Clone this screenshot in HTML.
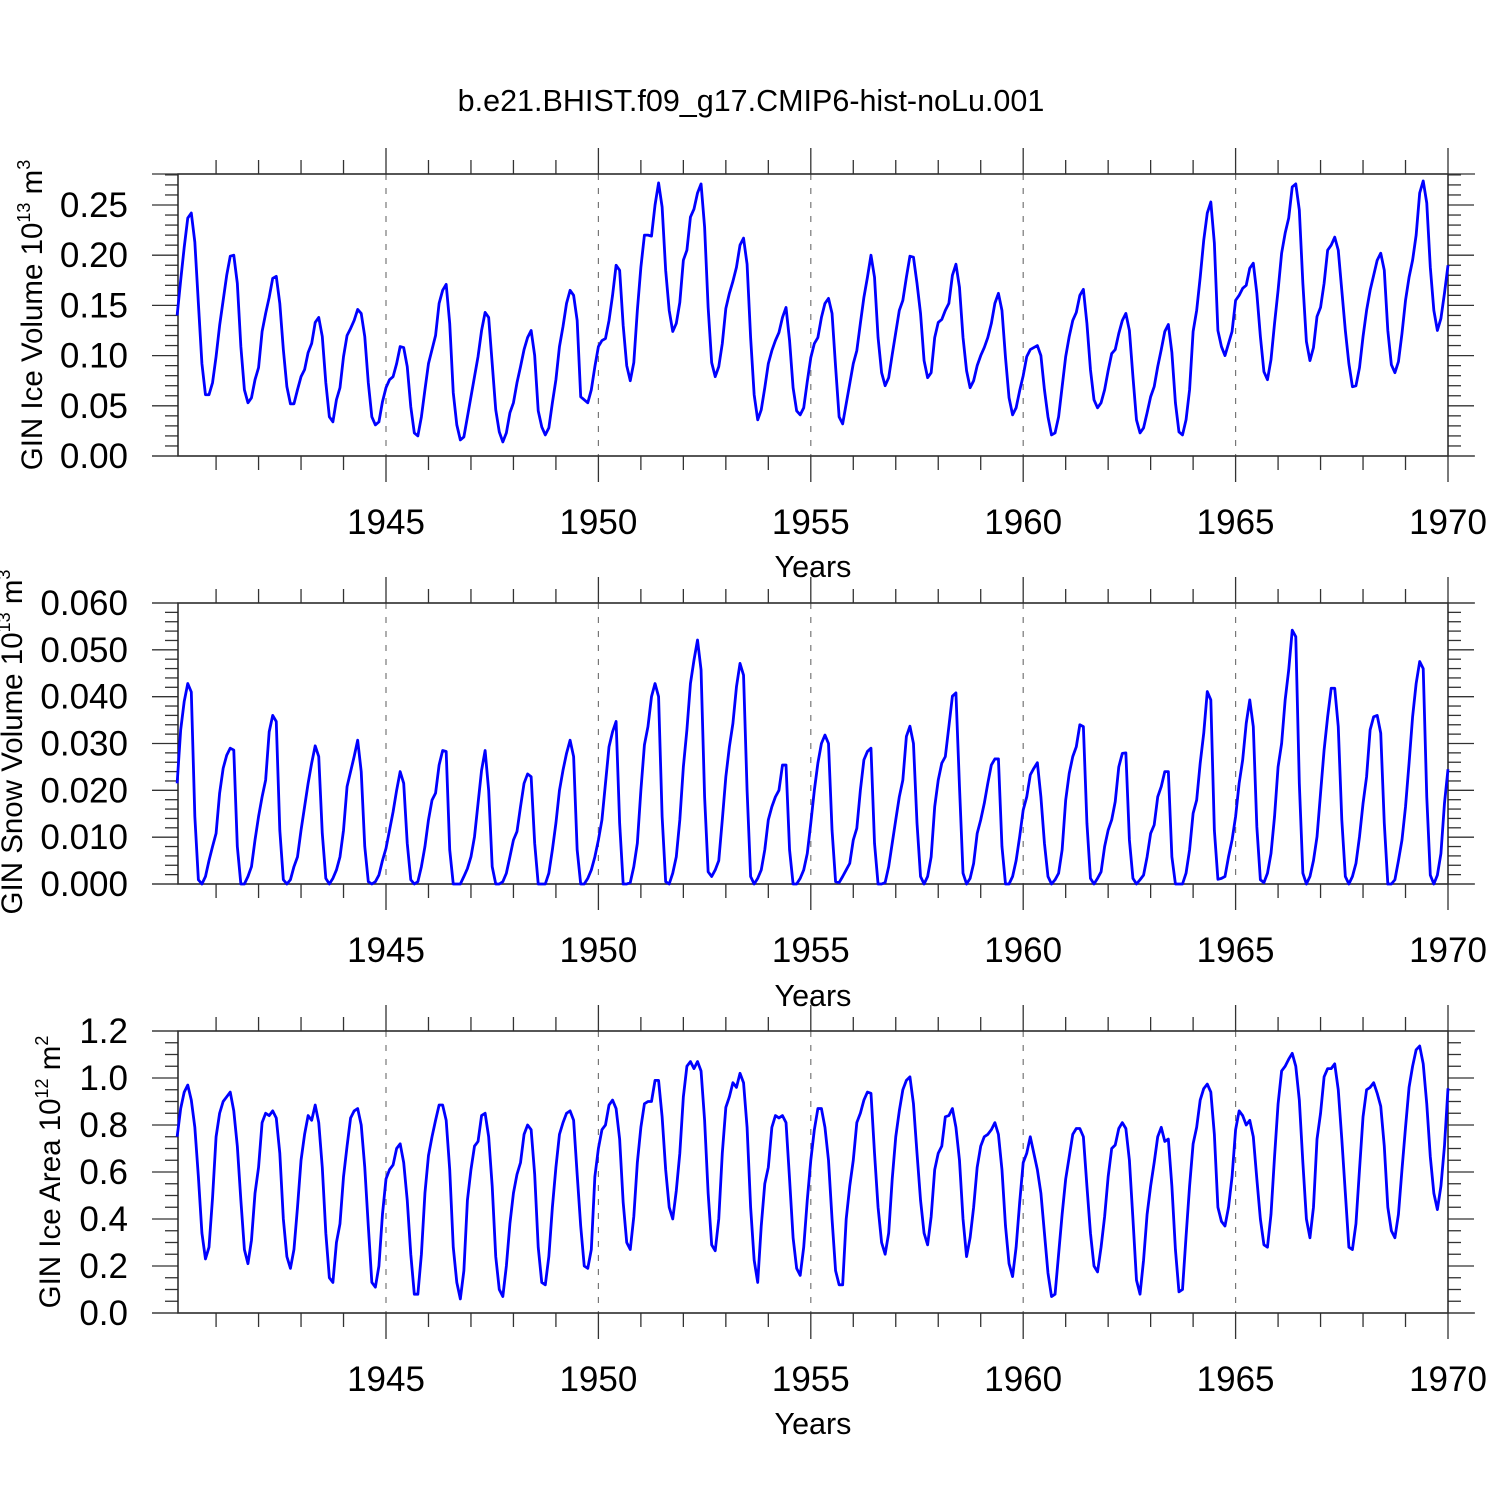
<!DOCTYPE html>
<html><head><meta charset="utf-8"><style>
body{margin:0;background:#fff}
svg{display:block;font-family:"Liberation Sans",Arial,sans-serif}
</style></head><body>
<svg id="chart" width="1500" height="1500" viewBox="0 0 1500 1500" xmlns="http://www.w3.org/2000/svg">
<rect x="0" y="0" width="1500" height="1500" fill="#fff"/>
<text x="751" y="111" font-size="30.5" text-anchor="middle">b.e21.BHIST.f09_g17.CMIP6-hist-noLu.001</text>
</svg>
<script>
const startYear = 1940;
const endYear = 1970;
const xTickYears = [1945, 1950, 1955, 1960, 1965, 1970];
const iceVolTicks = ["0.00","0.05","0.10","0.15","0.20","0.25"];
const snowVolTicks = ["0.000","0.010","0.020","0.030","0.040","0.050","0.060"];
const iceAreaTicks = ["0.0","0.2","0.4","0.6","0.8","1.0","1.2"];

const iceVolume = [
0.14,0.175,0.208,0.237,0.242,0.213,0.152,0.092,0.061,0.061,0.073,0.099,
0.13,0.155,0.18,0.199,0.2,0.172,0.109,0.066,0.053,0.058,0.076,0.088,
0.124,0.142,0.158,0.177,0.179,0.152,0.106,0.069,0.052,0.052,0.066,0.079,
0.086,0.103,0.112,0.133,0.138,0.119,0.073,0.039,0.034,0.056,0.068,0.099,
0.12,0.127,0.135,0.146,0.142,0.119,0.073,0.039,0.031,0.034,0.054,0.068,
0.076,0.079,0.092,0.109,0.108,0.089,0.049,0.023,0.02,0.039,0.066,0.092,
0.106,0.12,0.152,0.165,0.171,0.132,0.063,0.031,0.016,0.019,0.039,0.059,
0.079,0.099,0.125,0.143,0.138,0.092,0.046,0.024,0.014,0.023,0.043,0.053,
0.073,0.089,0.106,0.118,0.125,0.1,0.045,0.029,0.021,0.028,0.053,0.076,
0.109,0.129,0.152,0.165,0.16,0.135,0.059,0.056,0.053,0.066,0.089,0.109,
0.115,0.117,0.135,0.16,0.19,0.185,0.13,0.09,0.075,0.093,0.145,0.188,
0.22,0.22,0.219,0.25,0.272,0.248,0.185,0.145,0.124,0.132,0.153,0.195,
0.205,0.238,0.246,0.262,0.271,0.228,0.148,0.093,0.079,0.089,0.112,0.147,
0.162,0.174,0.188,0.21,0.217,0.191,0.118,0.061,0.036,0.046,0.068,0.092,
0.105,0.115,0.123,0.138,0.148,0.115,0.068,0.045,0.041,0.048,0.074,0.098,
0.112,0.118,0.138,0.152,0.157,0.142,0.089,0.039,0.032,0.052,0.072,0.092,
0.105,0.132,0.158,0.178,0.2,0.178,0.118,0.083,0.07,0.078,0.101,0.123,
0.145,0.155,0.178,0.199,0.198,0.172,0.142,0.095,0.078,0.083,0.118,0.133,
0.136,0.145,0.152,0.18,0.191,0.168,0.118,0.085,0.068,0.075,0.09,0.1,
0.108,0.118,0.132,0.152,0.162,0.145,0.098,0.058,0.041,0.048,0.065,0.08,
0.099,0.106,0.108,0.11,0.1,0.066,0.039,0.021,0.023,0.039,0.069,0.099,
0.119,0.135,0.143,0.16,0.166,0.132,0.086,0.056,0.048,0.053,0.066,0.085,
0.102,0.106,0.122,0.135,0.142,0.125,0.079,0.036,0.023,0.028,0.043,0.059,
0.069,0.089,0.106,0.124,0.131,0.103,0.053,0.024,0.021,0.036,0.066,0.124,
0.145,0.178,0.215,0.242,0.253,0.212,0.125,0.109,0.1,0.112,0.124,0.155,
0.16,0.167,0.17,0.187,0.192,0.162,0.119,0.084,0.076,0.096,0.132,0.165,
0.202,0.222,0.237,0.268,0.271,0.245,0.172,0.114,0.095,0.108,0.139,0.148,
0.172,0.205,0.21,0.218,0.205,0.165,0.125,0.092,0.069,0.07,0.088,0.119,
0.145,0.165,0.18,0.195,0.202,0.185,0.125,0.091,0.083,0.094,0.122,0.155,
0.178,0.195,0.22,0.262,0.274,0.252,0.188,0.145,0.125,0.137,0.162,0.19
];
const snowVolume = [
0.0215,0.0329,0.039,0.0428,0.041,0.0144,0.0009,0,0.0016,0.005,0.008,0.0108,
0.0194,0.0247,0.0275,0.029,0.0286,0.008,0,0,0.0016,0.0037,0.0094,0.0144,
0.0186,0.0222,0.0325,0.036,0.0347,0.0115,0.0009,0,0.0009,0.0037,0.0058,0.0115,
0.0165,0.0215,0.0258,0.0295,0.0272,0.0108,0.0012,0,0.0012,0.003,0.0058,0.0115,
0.0208,0.024,0.0272,0.0307,0.024,0.008,0.0005,0,0.0005,0.0019,0.005,0.0076,
0.0115,0.0154,0.02,0.024,0.0215,0.0087,0.0009,0,0.0005,0.0037,0.008,0.0137,
0.0179,0.0194,0.0254,0.0285,0.0283,0.0073,0,0,0,0.0016,0.0033,0.0058,
0.0101,0.0172,0.0243,0.0285,0.02,0.0037,0,0,0.0005,0.0023,0.0058,0.0094,
0.0112,0.0165,0.0215,0.0235,0.0229,0.0087,0,0,0,0.0023,0.0073,0.013,
0.02,0.0243,0.0279,0.0307,0.0272,0.0073,0,0,0.0012,0.003,0.0058,0.0094,
0.0137,0.0215,0.0293,0.0325,0.0347,0.013,0,0,0.0003,0.0037,0.0087,0.02,
0.0297,0.0336,0.04,0.0428,0.04,0.0144,0.0005,0,0.0023,0.0058,0.0137,0.025,
0.0329,0.0428,0.0478,0.0521,0.0457,0.0186,0.0026,0.0016,0.003,0.005,0.0137,0.0229,
0.0293,0.0343,0.0421,0.0471,0.0446,0.02,0.0016,0,0.0012,0.003,0.0073,0.0137,
0.0165,0.0186,0.02,0.0254,0.0254,0.0073,0,0,0.0012,0.003,0.0065,0.013,
0.02,0.0258,0.03,0.0318,0.03,0.0115,0.0005,0.0003,0.0016,0.003,0.0044,0.0094,
0.0119,0.02,0.0265,0.0283,0.029,0.0087,0,0,0.0003,0.0037,0.0087,0.0137,
0.0186,0.0222,0.0315,0.0337,0.03,0.013,0.0016,0,0.0016,0.0058,0.0165,0.0222,
0.0258,0.0272,0.0336,0.0401,0.0408,0.0208,0.0023,0,0.0012,0.0044,0.0108,0.0137,
0.0172,0.0215,0.0254,0.0267,0.0267,0.008,0,0,0.0016,0.005,0.0101,0.0158,
0.0186,0.0233,0.0247,0.0259,0.0186,0.0087,0.0016,0,0.0009,0.0023,0.0073,0.0179,
0.0236,0.0272,0.0293,0.034,0.0336,0.013,0.0012,0,0.0012,0.0026,0.008,0.0115,
0.0137,0.0176,0.025,0.0279,0.028,0.0094,0.0012,0,0.0009,0.0019,0.0058,0.0108,
0.0126,0.0186,0.0208,0.024,0.024,0.0058,0,0,0,0.0023,0.0073,0.0151,
0.0179,0.0258,0.0322,0.0411,0.0393,0.0115,0.001,0.0012,0.0016,0.0058,0.0094,0.0144,
0.0215,0.0265,0.0343,0.0393,0.0336,0.0122,0.0009,0.0003,0.0023,0.0065,0.0144,0.025,
0.03,0.0393,0.0457,0.0542,0.0528,0.0215,0.0023,0,0.0016,0.005,0.0101,0.0194,
0.0286,0.0357,0.0418,0.0418,0.0336,0.0137,0.0016,0,0.0016,0.0044,0.0101,0.0172,
0.0229,0.0329,0.0357,0.036,0.0322,0.013,0,0,0.0009,0.005,0.0094,0.0165,
0.0258,0.0357,0.0428,0.0475,0.046,0.0186,0.0019,0,0.0019,0.0065,0.0172,0.0245
];
const iceArea = [
0.75,0.87,0.94,0.97,0.906,0.79,0.58,0.34,0.23,0.28,0.49,0.75,
0.85,0.9,0.92,0.94,0.86,0.71,0.48,0.27,0.21,0.31,0.51,0.62,
0.81,0.85,0.84,0.86,0.83,0.68,0.4,0.24,0.19,0.27,0.45,0.65,
0.76,0.84,0.82,0.885,0.81,0.62,0.34,0.15,0.13,0.3,0.38,0.58,
0.71,0.83,0.86,0.87,0.8,0.62,0.37,0.13,0.11,0.2,0.42,0.57,
0.61,0.63,0.7,0.72,0.64,0.48,0.25,0.08,0.08,0.25,0.51,0.67,
0.75,0.82,0.885,0.885,0.82,0.61,0.28,0.13,0.06,0.18,0.48,0.61,
0.71,0.73,0.84,0.85,0.75,0.54,0.24,0.1,0.07,0.2,0.38,0.51,
0.59,0.64,0.76,0.8,0.78,0.59,0.28,0.13,0.12,0.24,0.45,0.62,
0.76,0.81,0.85,0.86,0.82,0.59,0.37,0.2,0.19,0.27,0.58,0.7,
0.78,0.8,0.885,0.906,0.87,0.74,0.47,0.3,0.27,0.41,0.64,0.79,
0.89,0.9,0.9,0.99,0.99,0.835,0.61,0.45,0.4,0.52,0.68,0.92,
1.05,1.07,1.04,1.07,1.03,0.82,0.51,0.29,0.265,0.4,0.68,0.875,
0.92,0.98,0.96,1.02,0.98,0.79,0.45,0.225,0.13,0.37,0.55,0.62,
0.79,0.84,0.83,0.84,0.81,0.57,0.32,0.19,0.16,0.28,0.48,0.65,
0.78,0.87,0.87,0.79,0.65,0.4,0.18,0.12,0.12,0.4,0.54,0.65,
0.81,0.85,0.906,0.94,0.935,0.68,0.45,0.3,0.25,0.34,0.57,0.75,
0.86,0.95,0.99,1.005,0.89,0.68,0.48,0.34,0.29,0.41,0.61,0.68,
0.71,0.835,0.84,0.87,0.79,0.65,0.4,0.24,0.32,0.45,0.62,0.71,
0.75,0.76,0.78,0.81,0.76,0.61,0.37,0.21,0.155,0.28,0.47,0.64,
0.68,0.75,0.68,0.61,0.51,0.34,0.17,0.07,0.08,0.25,0.42,0.57,
0.665,0.76,0.785,0.785,0.75,0.54,0.34,0.2,0.175,0.28,0.41,0.58,
0.7,0.715,0.785,0.81,0.785,0.65,0.4,0.14,0.08,0.225,0.42,0.54,
0.64,0.75,0.79,0.73,0.74,0.54,0.27,0.09,0.1,0.325,0.54,0.72,
0.79,0.906,0.955,0.974,0.94,0.76,0.45,0.39,0.37,0.45,0.58,0.78,
0.86,0.84,0.8,0.82,0.75,0.57,0.4,0.29,0.28,0.42,0.665,0.89,
1.03,1.05,1.08,1.105,1.05,0.906,0.64,0.4,0.32,0.45,0.74,0.85,
1.005,1.04,1.04,1.06,0.95,0.74,0.51,0.28,0.27,0.38,0.61,0.835,
0.95,0.96,0.98,0.935,0.88,0.71,0.45,0.35,0.32,0.42,0.61,0.79,
0.96,1.05,1.12,1.136,1.06,0.89,0.665,0.51,0.44,0.54,0.71,0.956
];

const NS = "http://www.w3.org/2000/svg";
const svg = document.getElementById("chart");
const X0 = 178, X1 = 1448;
function xScale(t){ return 173.6 + (1448 - 173.6) * (t - startYear) / (endYear - startYear); }
function mk(tag, attrs){ const e = document.createElementNS(NS, tag); for (const k in attrs) e.setAttribute(k, attrs[k]); return e; }

const panels = [
 {name:"ice-volume", top:174, bot:456, max:0.28088, data:iceVolume, ticks:iceVolTicks, major:0.05, minor:0.01, tx:32, tc:315, labBase:[522,566],
  title:["GIN Ice Volume 10","13"," m","3"]},
 {name:"snow-volume", top:603, bot:884, max:0.06, data:snowVolume, ticks:snowVolTicks, major:0.01, minor:0.002, tx:12, tc:742, labBase:[950,995],
  title:["GIN Snow Volume 10","13"," m","3"]},
 {name:"ice-area", top:1031, bot:1313, max:1.2, data:iceArea, ticks:iceAreaTicks, major:0.2, minor:0.05, tx:50, tc:1172, labBase:[1379,1423],
  title:["GIN Ice Area 10","12"," m","2"]}
];

panels.forEach(p => {
  const g = mk("g", {});
  
  
  svg.appendChild(g);
  const yS = v => p.bot - (p.bot - p.top) * v / p.max;
  xTickYears.slice(0, -1).forEach(yr => {
    const l = mk("line", {x1:xScale(yr), x2:xScale(yr), y1:p.top, y2:p.bot, stroke:"#777", "stroke-width":1.2, "stroke-dasharray":"6,8"});
    
    
    g.appendChild(l);
  });
  for (let yr = startYear + 1; yr <= endYear; yr++) {
    const isMaj = yr % 5 === 0;
    const x = xScale(yr);
    const len = isMaj ? 26 : 14;
    g.appendChild(mk("line", {x1:x, x2:x, y1:p.top - len, y2:p.top, stroke:"#333", "stroke-width":1.3}));
    g.appendChild(mk("line", {x1:x, x2:x, y1:p.bot, y2:p.bot + len, stroke:"#333", "stroke-width":1.3}));
  }
  const nMin = Math.round(p.max / p.minor + 0.2);
  for (let i = 0; i <= nMin; i++) {
    const v = i * p.minor; if (v > p.max + 1e-9) break;
    const y = yS(v);
    const isMaj = Math.abs(v / p.major - Math.round(v / p.major)) < 1e-6;
    const len = isMaj ? 26 : 13;
    g.appendChild(mk("line", {x1:X0 - len, x2:X0, y1:y, y2:y, stroke:"#333", "stroke-width":1.3}));
    g.appendChild(mk("line", {x1:X1, x2:X1 + len, y1:y, y2:y, stroke:"#333", "stroke-width":1.3}));
  }
  const fr = mk("rect", {x:X0, y:p.top, width:X1 - X0, height:p.bot - p.top, fill:"none", stroke:"#222", "stroke-width":1.5});
  
  
  g.appendChild(fr);
  g.appendChild(mk("line", {x1:152, x2:1475, y1:p.top, y2:p.top, stroke:"#333", "stroke-width":1.3}));
  g.appendChild(mk("line", {x1:152, x2:1475, y1:p.bot, y2:p.bot, stroke:"#333", "stroke-width":1.3}));
  p.ticks.forEach((lab, i) => {
    const t = mk("text", {x:128, y:yS(i * p.major) + 12, "font-size":35, "text-anchor":"end"});
    t.textContent = lab;
    
    
    g.appendChild(t);
  });
  xTickYears.forEach(yr => {
    const t = mk("text", {x:xScale(yr), y:p.labBase[0] + 12, "font-size":35, "text-anchor":"middle"});
    t.textContent = String(yr);
    
    
    g.appendChild(t);
  });
  const xt = mk("text", {x:813, y:p.labBase[1] + 11, "font-size":30.5, "text-anchor":"middle"});
  xt.textContent = "Years";
  
  
  g.appendChild(xt);
  const yt = mk("text", {x:0, y:0, "font-size":29.5, "text-anchor":"middle", transform:`translate(${p.tx + 10},${p.tc}) rotate(-90)`});
  
  
  const s1 = mk("tspan", {}); s1.textContent = p.title[0];
  const s2 = mk("tspan", {dy:-12, "font-size":18}); s2.textContent = p.title[1];
  const s3 = mk("tspan", {dy:12}); s3.textContent = p.title[2];
  const s4 = mk("tspan", {dy:-12, "font-size":18}); s4.textContent = p.title[3];
  [s1, s2, s3, s4].forEach(s => yt.appendChild(s));
  g.appendChild(yt);
  const pts = p.data.map((v, i) => xScale(startYear + (i + 1) / 12).toFixed(2) + "," + yS(v).toFixed(2)).join(" ");
  const line = mk("polyline", {points:pts, fill:"none", stroke:"#0000ff", "stroke-width":2.8, "stroke-linejoin":"round"});
  
  
  g.appendChild(line);
});
</script>
</body></html>
